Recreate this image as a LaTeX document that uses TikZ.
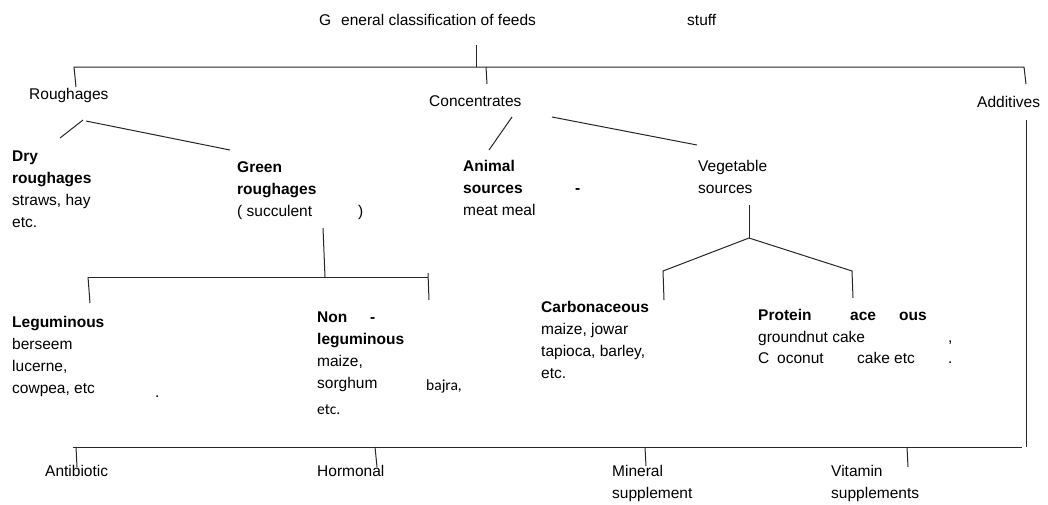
\documentclass[tikz,border=0pt]{standalone}
\usepackage{fontspec}
\setmainfont{Liberation Sans}
\newfontfamily\calfont{Carlito}
\begin{document}
\begin{tikzpicture}[x=1pt,y=-1pt,
  lbl/.style={anchor=base west,inner sep=0pt,font=\fontsize{15.5}{21.8}\selectfont,align=left},
  cal/.style={anchor=base west,inner sep=0pt,font=\calfont\fontsize{15.5}{21.8}\selectfont},
  ln/.style={line width=1pt,black!85}]
\useasboundingbox (0,0) rectangle (1048,504);
% title
\node[lbl] (tG) at (319,25) {G};
\node[lbl] (tE) at (341,25) {eneral classification of feeds};
\node[lbl] (tS) at (687,25) {stuff};
% level 1
\node[lbl] (rough) at (29,99) {Roughages};
\node[lbl] (conc) at (429,106) {Concentrates};
\node[lbl] (addi) at (977,107) {Additives};
% level 2 (base anchor = last line baseline)
\node[lbl] (dry) at (12,227) {\textbf{Dry}\\\textbf{roughages}\\straws, hay\\etc.};
\node[lbl] (green) at (237,216) {\textbf{Green}\\\textbf{roughages}\\( succulent};
\node[lbl] (greenp) at (358,216) {)};
\node[lbl] (anim) at (463,215) {\textbf{Animal}\\\textbf{sources}\\meat meal};
\node[lbl] (animd) at (575,193) {\textbf{-}};
\node[lbl] (veg) at (698,193) {Vegetable\\sources};
% level 3
\node[lbl] (legu) at (12,393) {\textbf{Leguminous}\\berseem\\lucerne,\\cowpea, etc};
\node[lbl] (legud) at (155,397) {.};
\node[lbl] (non) at (317,322) {\textbf{Non}};
\node[lbl] (nond) at (370,322) {\textbf{-}};
\node[lbl] (nonl) at (317,388) {\textbf{leguminous}\\maize,\\sorghum};
\node[cal] (bajra) at (426,390) {bajra,};
\node[cal] (nonetc) at (317,414) {etc.};
\node[lbl] (carb) at (541,378) {\textbf{Carbonaceous}\\maize, jowar\\tapioca, barley,\\etc.};
\node[lbl] (prot) at (758,320) {\textbf{Protein}};
\node[lbl] (prota) at (850,320) {\textbf{ace}};
\node[lbl] (proto) at (899,320) {\textbf{ous}};
\node[lbl] (gnut) at (758,342) {groundnut cake};
\node[lbl] (gnutc) at (948,342) {,};
\node[lbl] (cocC) at (758,363) {C};
\node[lbl] (coc) at (777,363) {oconut};
\node[lbl] (cake) at (857,363) {cake etc};
\node[lbl] (caked) at (948,363) {.};
% bottom
\node[lbl] (anti) at (45,476) {Antibiotic};
\node[lbl] (horm) at (317,476) {Hormonal};
\node[lbl] (mine) at (612,498) {Mineral\\supplement};
\node[lbl] (vita) at (831,498) {Vitamin\\supplements};
% coordinates
\coordinate (a0) at (476,45); \coordinate (a1) at (476,67);
\coordinate (b0) at (76,87); \coordinate (b1) at (74,67);
\coordinate (b2) at (1024,67); \coordinate (b3) at (1026,84);
\coordinate (c0) at (486,67); \coordinate (c1) at (487,84);
\coordinate (r0) at (83,120); \coordinate (r1) at (60,138);
\coordinate (r2) at (86,121); \coordinate (r3) at (230,150);
\coordinate (k0) at (512,117); \coordinate (k1) at (489,150);
\coordinate (k2) at (552,117); \coordinate (k3) at (697,145);
\coordinate (g0) at (323,228); \coordinate (g1) at (325,277);
\coordinate (g2) at (88,277); \coordinate (g3) at (428,277);
\coordinate (g4) at (90,303); \coordinate (g5) at (428,273); \coordinate (g6) at (429,300);
\coordinate (v0) at (749,205); \coordinate (v1) at (749,238);
\coordinate (v2) at (663,271); \coordinate (v3) at (664,300);
\coordinate (v4) at (852,271); \coordinate (v5) at (853,298);
\coordinate (d0) at (1026,120); \coordinate (d1) at (1026,447);
\coordinate (e0) at (73,447); \coordinate (e1) at (1022,447);
\coordinate (f0) at (76,447); \coordinate (f1) at (77,467);
\coordinate (f2) at (375,447); \coordinate (f3) at (377,467);
\coordinate (f4) at (645,447); \coordinate (f5) at (646,466);
\coordinate (f6) at (907,447); \coordinate (f7) at (908,467);
% connectors
\draw[ln] (a0) -- (a1);
\draw[ln] (b0) -- (b1) -- (b2) -- (b3);
\draw[ln] (c0) -- (c1);
\draw[ln] (r0) -- (r1);
\draw[ln] (r2) -- (r3);
\draw[ln] (k0) -- (k1);
\draw[ln] (k2) -- (k3);
\draw[ln] (g0) -- (g1);
\draw[ln] (g2) -- (g3);
\draw[ln] (g2) -- (g4);
\draw[ln] (g5) -- (g6);
\draw[ln] (v0) -- (v1);
\draw[ln] (v3) -- (v2) -- (v1) -- (v4) -- (v5);
\draw[ln] (d0) -- (d1);
\draw[ln] (e0) -- (e1);
\draw[ln] (f0) -- (f1);
\draw[ln] (f2) -- (f3);
\draw[ln] (f4) -- (f5);
\draw[ln] (f6) -- (f7);
\end{tikzpicture}
\end{document}
